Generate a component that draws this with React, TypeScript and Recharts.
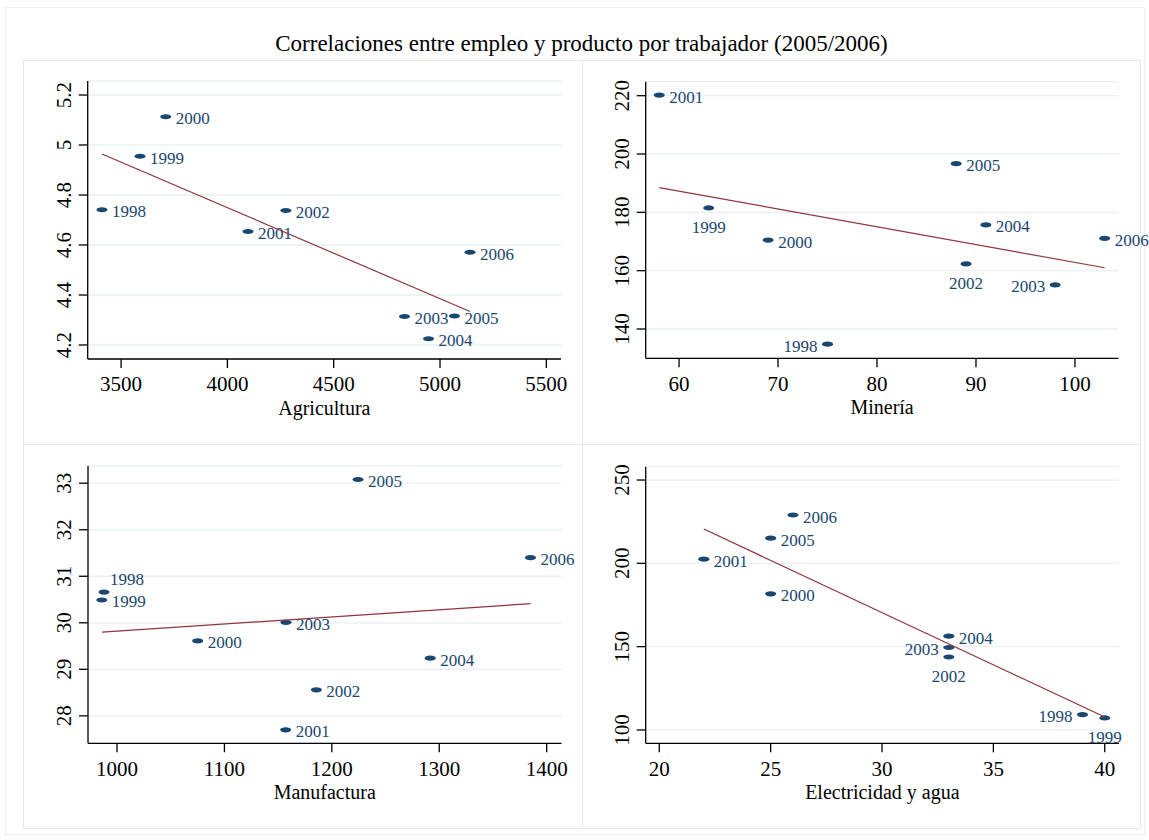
import React from 'react';
import { ScatterChart, Scatter, XAxis, YAxis, CartesianGrid } from 'recharts';

const years = [1998, 1999, 2000, 2001, 2002, 2003, 2004, 2005, 2006];

// Agricultura
const agriX = [3410, 3589, 3710, 4097, 4275, 4833, 4946, 5068, 5141];
const agriY = [4.741, 4.955, 5.113, 4.654, 4.738, 4.314, 4.225, 4.316, 4.571];
const agriFitX = [3410, 5141];
const agriFitY = [4.964, 4.334];
const agriXTicks = [3500, 4000, 4500, 5000, 5500];
const agriYTicks = [4.2, 4.4, 4.6, 4.8, 5, 5.2];

// Minería
const minX = [75, 63, 69, 58, 89, 98, 91, 88, 103];
const minY = [134.8, 181.5, 170.5, 220.2, 162.3, 155.1, 175.7, 196.7, 171.1];
const minFitX = [58, 103];
const minFitY = [188.5, 161.0];
const minXTicks = [60, 70, 80, 90, 100];
const minYTicks = [140, 160, 180, 200, 220];

// Manufactura
const manX = [987.9, 985.8, 1075.1, 1157, 1185.6, 1157.3, 1291.6, 1224.4, 1384.9];
const manY = [30.66, 30.49, 29.61, 27.7, 28.56, 30.01, 29.24, 33.08, 31.4];
const manFitX = [986, 1385];
const manFitY = [29.8, 30.41];
const manXTicks = [1000, 1100, 1200, 1300, 1400];
const manYTicks = [28, 29, 30, 31, 32, 33];

// Electricidad y agua
const eleX = [39, 40, 25, 22, 33, 33, 33, 25, 26];
const eleY = [109.2, 107.2, 181.7, 202.5, 143.8, 149.5, 156.3, 215.1, 229.0];
const eleFitX = [22, 40];
const eleFitY = [220.6, 107.8];
const eleXTicks = [20, 25, 30, 35, 40];
const eleYTicks = [100, 150, 200, 250];

// label positions (r = right, l = left, b = below, ar = above right)
const agriPos = ['r', 'r', 'r', 'r', 'r', 'r', 'r', 'r', 'r'];
const minPos = ['l', 'b', 'r', 'r', 'b', 'l', 'r', 'r', 'r'];
const manPos = ['ar', 'r', 'r', 'r', 'r', 'r', 'r', 'r', 'r'];
const elePos = ['l', 'b', 'r', 'r', 'b', 'l', 'r', 'r', 'r'];

const FONT = '"Liberation Serif", "Times New Roman", serif';
const NAVY = '#1a476f';
const RED = '#90353b';
const GRID = '#e9f0f2';
const BORDER = '#e4ecef';
const Y_W = 50;
const X_H = 70;

const Marker = (p: any) => {
  const { cx, cy, payload } = p;
  let tx = cx + 10;
  let ty = cy + 7.5;
  let anchor: 'start' | 'middle' | 'end' = 'start';
  if (payload.pos === 'b') { tx = cx; ty = cy + 25.5; anchor = 'middle'; }
  if (payload.pos === 'l') { tx = cx - 10; anchor = 'end'; }
  if (payload.pos === 'ar') { tx = cx + 6; ty = cy - 7; }
  return (
    <g>
      <ellipse cx={cx} cy={cy} rx={5.5} ry={2.6} fill={NAVY} />
      <text x={tx} y={ty} textAnchor={anchor} fill={NAVY} fontSize={17} fontFamily={FONT}>{payload.year}</text>
    </g>
  );
};

const XTick = (p: any) => (
  <text x={p.x} y={p.y + 23.2} textAnchor="middle" fontSize={21} fontFamily={FONT} fill="#000">{p.payload.value}</text>
);

const YTick = (p: any) => {
  const bx = p.x - 8;
  return (
    <text x={bx} y={p.y} transform={`rotate(-90 ${bx} ${p.y})`} textAnchor="middle" fontSize={21} fontFamily={FONT} fill="#000">{p.payload.value}</text>
  );
};

type Box = { left: number; top: number; width: number; height: number };
type Plot = { x0: number; x1: number; y0: number; y1: number };

function Panel(props: {
  box: Box; plot: Plot; title: string;
  xs: number[]; ys: number[]; fitX: number[]; fitY: number[];
  xDomain: [number, number]; yDomain: [number, number];
  xTicks: number[]; yTicks: number[]; pos: string[];
}) {
  const { box, plot, title, xs, ys, fitX, fitY, xDomain, yDomain, xTicks, yTicks, pos } = props;
  const points = years.map((yr, i) => ({ x: xs[i], y: ys[i], year: yr, pos: pos[i] }));
  const fit = fitX.map((x, i) => ({ x, y: fitY[i] }));
  const margin = {
    left: plot.x0 - box.left - Y_W,
    top: plot.y0 - box.top,
    right: box.left + box.width - plot.x1,
    bottom: box.top + box.height - plot.y1 - X_H,
  };
  const titleX = (plot.x0 + plot.x1) / 2 - box.left;
  const titleY = plot.y1 - box.top + 55.5;
  return (
    <div style={{ position: 'absolute', left: box.left, top: box.top }}>
      <ScatterChart width={box.width} height={box.height} margin={margin}>
        <CartesianGrid vertical={false} stroke={GRID} strokeWidth={1.3} />
        <XAxis
          type="number" dataKey="x" domain={xDomain} ticks={xTicks} interval={0}
          tickSize={9} tickMargin={0} height={X_H}
          axisLine={{ stroke: '#000', strokeWidth: 1.3 }} tickLine={{ stroke: '#000', strokeWidth: 1.3 }}
          tick={XTick}
          label={{
            content: () => (
              <text x={titleX} y={titleY} textAnchor="middle" fontSize={20} fontFamily={FONT} fill="#000">{title}</text>
            ),
          }}
        />
        <YAxis
          type="number" dataKey="y" domain={yDomain} ticks={yTicks} interval={0}
          tickSize={9} tickMargin={0} width={Y_W}
          axisLine={{ stroke: '#000', strokeWidth: 1.3 }} tickLine={{ stroke: '#000', strokeWidth: 1.3 }}
          tick={YTick}
        />
        <Scatter data={points} shape={Marker} isAnimationActive={false} />
        <Scatter data={fit} shape={() => <g />} line={{ stroke: RED, strokeWidth: 1.2 }} isAnimationActive={false} />
      </ScatterChart>
    </div>
  );
}

export default function App() {
  return (
    <div style={{ position: 'absolute', left: 0, top: 0, width: 1149, height: 840, background: '#fff', fontFamily: FONT }}>
      <div style={{ position: 'absolute', left: 5, top: 7, width: 1140, height: 828, border: '1px solid #eef2f4', boxSizing: 'border-box' }} />
      <div style={{ position: 'absolute', left: 0, top: 31, width: 1163, textAlign: 'center', fontSize: 23, color: '#000', lineHeight: '26px' }}>
        Correlaciones entre empleo y producto por trabajador (2005/2006)
      </div>
      <div style={{ position: 'absolute', left: 23, top: 60, width: 560, height: 385, border: `1px solid ${BORDER}`, boxSizing: 'border-box' }} />
      <div style={{ position: 'absolute', left: 582, top: 60, width: 559, height: 385, border: `1px solid ${BORDER}`, boxSizing: 'border-box' }} />
      <div style={{ position: 'absolute', left: 23, top: 444, width: 560, height: 385, border: `1px solid ${BORDER}`, boxSizing: 'border-box' }} />
      <div style={{ position: 'absolute', left: 582, top: 444, width: 559, height: 385, border: `1px solid ${BORDER}`, boxSizing: 'border-box' }} />

      <Panel
        box={{ left: 23, top: 60, width: 560, height: 384 }}
        plot={{ x0: 87.7, x1: 561, y0: 81, y1: 359 }}
        title="Agricultura" xs={agriX} ys={agriY} fitX={agriFitX} fitY={agriFitY}
        xDomain={[3343, 5569]} yDomain={[4.144, 5.256]} xTicks={agriXTicks} yTicks={agriYTicks} pos={agriPos}
      />
      <Panel
        box={{ left: 583, top: 60, width: 566, height: 384 }}
        plot={{ x0: 645.7, x1: 1118.5, y0: 81.7, y1: 358.3 }}
        title="Minería" xs={minX} ys={minY} fitX={minFitX} fitY={minFitY}
        xDomain={[56.63, 104.4]} yDomain={[129.95, 224.8]} xTicks={minXTicks} yTicks={minYTicks} pos={minPos}
      />
      <Panel
        box={{ left: 23, top: 444, width: 560, height: 390 }}
        plot={{ x0: 88, x1: 561.5, y0: 466, y1: 743.3 }}
        title="Manufactura" xs={manX} ys={manY} fitX={manFitX} fitY={manFitY}
        xDomain={[973, 1413.8]} yDomain={[27.41, 33.37]} xTicks={manXTicks} yTicks={manYTicks} pos={manPos}
      />
      <Panel
        box={{ left: 583, top: 444, width: 566, height: 390 }}
        plot={{ x0: 645.7, x1: 1119, y0: 466.7, y1: 743.3 }}
        title="Electricidad y agua" xs={eleX} ys={eleY} fitX={eleFitX} fitY={eleFitY}
        xDomain={[19.39, 40.64]} yDomain={[92, 258]} xTicks={eleXTicks} yTicks={eleYTicks} pos={elePos}
      />
    </div>
  );
}
